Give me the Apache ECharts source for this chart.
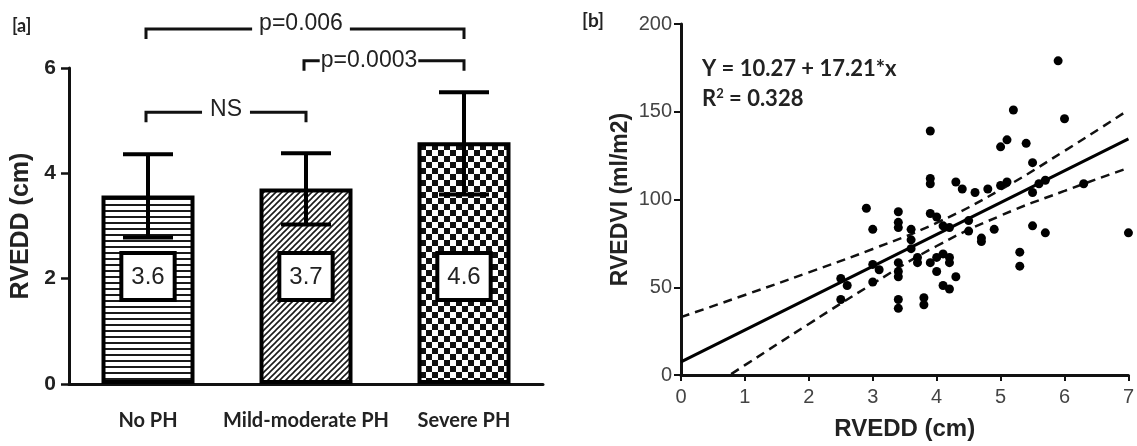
<!DOCTYPE html>
<html><head><meta charset="utf-8">
<script src="https://cdn.jsdelivr.net/npm/echarts@6/dist/echarts.min.js"></script>
<style>html,body{margin:0;padding:0;background:#fff}#c{width:1137px;height:446px}</style>
</head><body><div id="c"></div>
<script>
// ---------- Panel [a] data ----------
const categories = ['No PH', 'Mild-moderate PH', 'Severe PH'];
const meanValues = [3.58, 3.71, 4.59];
const errLow = [2.78, 3.03, 3.60];
const errHigh = [4.36, 4.38, 5.54];
const barTicks = [0, 2, 4, 6];
// [fromIndex, toIndex, bracket level (cm), label]
const brackets = [
  [0, 2, 6.74, 'p=0.006'],
  [1, 2, 6.14, 'p=0.0003'],
  [0, 1, 5.16, 'NS']
];
// ---------- Panel [b] data ----------
const scatterPoints = [
  [5.9,179],[5.2,151],[6.0,146],[3.9,139],[5.1,134],[5.4,132],[5.0,130],[5.5,121],
  [3.9,112],[3.9,109],[4.3,110],[4.4,106],[4.6,104],[4.8,106],[5.0,108],[5.1,110],
  [5.5,104],[5.6,109],[5.7,111],[6.3,109],
  [2.9,95],[3.4,93],[3.9,92],[4.0,90],[3.4,87],[3.4,84],[3.0,83],[3.6,83],[4.1,85],
  [4.2,84],[4.5,88],[4.5,82],[4.9,83],[5.5,85],[5.7,81],[7.0,81],
  [4.7,78],[4.7,76],[3.6,77],[3.6,72],
  [3.7,67],[3.7,64],[3.9,64],[4.0,67],[4.1,69],[4.2,67],[4.2,64],[4.0,59],
  [3.4,64],[3.4,59],[3.4,56],[3.4,43],[3.4,38],
  [3.0,63],[3.1,60],[3.0,53],[2.5,55],[2.6,51],[2.5,43],
  [4.3,56],[4.1,51],[4.2,49],[3.8,44],[3.8,40],[5.3,70],[5.3,62]
];
const fitLine = [[0, 7.5], [7, 134.5]];
const bandUpper = [[0,33],[1,45.6],[2,58.5],[3,71.8],[4,86.7],[5,105.6],[6,127.7],[7,151]];
const bandLower = [[0,-18],[1,5.6],[2,29.1],[3,52],[4,73.5],[5,90.8],[6,104.9],[7,118]];
const xTicksB = [0,1,2,3,4,5,6,7];
const yTicksB = [0,50,100,150,200];

// ---------- patterns (style only) ----------
function tile(w, h, draw) {
  const c = document.createElement('canvas'); c.width = w; c.height = h;
  const g = c.getContext('2d'); g.fillStyle = '#fff'; g.fillRect(0, 0, w, h);
  draw(g); return { image: c, repeat: 'repeat' };
}
const patH = tile(6, 6, g => { g.fillStyle = '#1a1a1a'; g.fillRect(0, 0, 6, 2); });
const patD = tile(6, 6, g => {
  g.strokeStyle = '#1a1a1a'; g.lineWidth = 1.6; g.beginPath();
  g.moveTo(-1, 7); g.lineTo(7, -1); g.moveTo(-1, 1); g.lineTo(1, -1); g.moveTo(5, 7); g.lineTo(7, 5);
  g.stroke();
});
const patC = tile(12, 12, g => { g.fillStyle = '#111'; g.fillRect(0, 0, 6, 6); g.fillRect(6, 6, 6, 6); });
const patterns = [patH, patD, patC];

const AX = '#111';
const bracketText = [ {dx: -5, dy: -5, pad: 7}, {dx: -16, dy: 0, pad: 1}, {dx: -1, dy: -3, pad: 8} ];

const chart = echarts.init(document.getElementById('c'), null, {renderer: 'canvas'});
chart.setOption({
  backgroundColor: '#fff',
  animation: false,
  grid: [
    {left: 69, top: 68, width: 474, height: 316},
    {left: 681, top: 24, width: 455, height: 357}
  ],
  xAxis: [
    {type: 'category', gridIndex: 0, data: categories,
     axisLine: {lineStyle: {color: AX, width: 3}},
     axisTick: {alignWithLabel: true, length: 10, lineStyle: {color: AX, width: 2.5}},
     axisLabel: {interval: 0, fontFamily: 'Lato', fontWeight: 'bold', fontSize: 20, color: '#222', margin: 27,
                 rich: {}}},
    {type: 'value', gridIndex: 1, min: 0, max: 7, interval: 1,
     axisLine: {show: true, onZero: false, lineStyle: {color: AX, width: 3}},
     axisTick: {show: true, length: 6, lineStyle: {color: AX, width: 2}},
     splitLine: {show: false},
     axisLabel: {fontFamily: 'Liberation Sans', fontSize: 20, color: '#444', margin: 12,
                 formatter: v => xTicksB.includes(v) ? String(v) : ''},
     name: 'RVEDD (cm)', nameLocation: 'middle', nameGap: 42,
     nameTextStyle: {fontFamily: 'Liberation Sans', fontWeight: 'bold', fontSize: 24, color: '#222'}}
  ],
  yAxis: [
    {type: 'value', gridIndex: 0, min: 0, max: 6, interval: 2,
     axisLine: {show: true, lineStyle: {color: AX, width: 3}},
     axisTick: {show: true, length: 8, lineStyle: {color: AX, width: 2.5}},
     splitLine: {show: false},
     axisLabel: {fontFamily: 'Liberation Sans', fontWeight: 'bold', fontSize: 21, color: '#222', margin: 13,
                 formatter: v => barTicks.includes(v) ? String(v) : ''},
     name: 'RVEDD (cm)', nameLocation: 'middle', nameGap: 35,
     nameTextStyle: {fontFamily: 'Liberation Sans', fontWeight: 'bold', fontSize: 25, color: '#222'}},
    {type: 'value', gridIndex: 1, min: 0, max: 200, interval: 50,
     axisLine: {show: true, onZero: false, lineStyle: {color: AX, width: 3}},
     axisTick: {show: true, length: 7, lineStyle: {color: AX, width: 2}},
     splitLine: {show: false},
     axisLabel: {fontFamily: 'Liberation Sans', fontSize: 20, color: '#444', margin: 9,
                 formatter: v => yTicksB.includes(v) ? String(v) : ''},
     name: 'RVEDVI (ml/m2)', nameLocation: 'middle', nameGap: 49,
     nameTextStyle: {fontFamily: 'Liberation Sans', fontWeight: 'bold', fontSize: 23, color: '#222'}}
  ],
  series: [
    {type: 'bar', xAxisIndex: 0, yAxisIndex: 0, barWidth: 93, z: 2,
     data: meanValues.map((v, i) => ({value: v, itemStyle: {color: patterns[i], borderColor: '#000', borderWidth: 4}})),
     label: {show: true, position: 'insideBottom', distance: 86,
             formatter: p => p.value.toFixed(1),
             backgroundColor: '#fff', borderColor: '#000', borderWidth: 4,
             padding: [10, 8, 8, 8], fontFamily: 'Liberation Sans', fontSize: 24, color: '#222', lineHeight: 25}},
    {type: 'custom', xAxisIndex: 0, yAxisIndex: 0, z: 5, clip: false,
     data: categories.map((c, i) => [i, errLow[i], errHigh[i]]),
     renderItem: (params, api) => {
       const i = api.value(0);
       const lo = api.coord([i, api.value(1)]);
       const hi = api.coord([i, api.value(2)]);
       const hw = 25;
       const st = {stroke: '#000', lineWidth: 4};
       return {type: 'group', children: [
         {type: 'line', shape: {x1: hi[0], y1: hi[1], x2: lo[0], y2: lo[1]}, style: st},
         {type: 'line', shape: {x1: hi[0] - hw, y1: hi[1], x2: hi[0] + hw, y2: hi[1]}, style: st},
         {type: 'line', shape: {x1: lo[0] - hw, y1: lo[1], x2: lo[0] + hw, y2: lo[1]}, style: st}
       ]};
     }},
    {type: 'custom', xAxisIndex: 0, yAxisIndex: 0, z: 5, clip: false,
     data: brackets.map(b => [b[0], b[1], b[2]]),
     renderItem: (params, api) => {
       const b = brackets[params.dataIndex];
       const t = bracketText[params.dataIndex];
       const p1 = api.coord([b[0], b[2]]);
       const p2 = api.coord([b[1], b[2]]);
       const drop = 10;
       return {type: 'group', children: [
         {type: 'polyline', shape: {points: [[p1[0] - 2, p1[1] + drop], [p1[0] - 2, p1[1]], [p2[0], p2[1]], [p2[0], p2[1] + drop]]},
          style: {stroke: '#111', lineWidth: 3, fill: null}},
         {type: 'text', x: (p1[0] + p2[0]) / 2 + t.dx, y: p1[1] + t.dy,
          style: {text: b[3], fontFamily: 'Liberation Sans', fontSize: 23, fill: '#222',
                  align: 'center', verticalAlign: 'middle', backgroundColor: '#fff', padding: [0, t.pad]}}
       ]};
     }},
    {type: 'line', xAxisIndex: 1, yAxisIndex: 1, data: bandUpper, smooth: true, showSymbol: false,
     lineStyle: {color: '#111', width: 2.5, type: [9, 6]}, z: 3},
    {type: 'line', xAxisIndex: 1, yAxisIndex: 1, data: bandLower, smooth: true, showSymbol: false,
     lineStyle: {color: '#111', width: 2.5, type: [9, 6]}, z: 3},
    {type: 'line', xAxisIndex: 1, yAxisIndex: 1, data: fitLine, showSymbol: false,
     lineStyle: {color: '#000', width: 3}, z: 3},
    {type: 'scatter', xAxisIndex: 1, yAxisIndex: 1, data: scatterPoints, symbolSize: 9,
     itemStyle: {color: '#000', opacity: 1}, z: 4}
  ],
  graphic: [
    {type: 'text', left: 12, top: 17, style: {text: '[a]', font: 'bold 18px Lato', fill: '#222'}},
    {type: 'text', left: 582, top: 11, style: {text: '[b]', font: 'bold 19px Lato', fill: '#222'}},
    {type: 'text', left: 702, top: 58, style: {text: 'Y = 10.27 + 17.21*x', font: 'bold 22px Lato', fill: '#222'}},
    {type: 'text', left: 702, top: 87, style: {
      text: '{a|R}{s|2}{a| = 0.328}',
      rich: {a: {fontFamily: 'Lato', fontWeight: 'bold', fontSize: 22, fill: '#222', color: '#222'},
             s: {fontFamily: 'Lato', fontWeight: 'bold', fontSize: 13, color: '#222', fill: '#222', verticalAlign: 'top', padding: [0, 0, 10, 0]}}}}
  ]
});
</script></body></html>
